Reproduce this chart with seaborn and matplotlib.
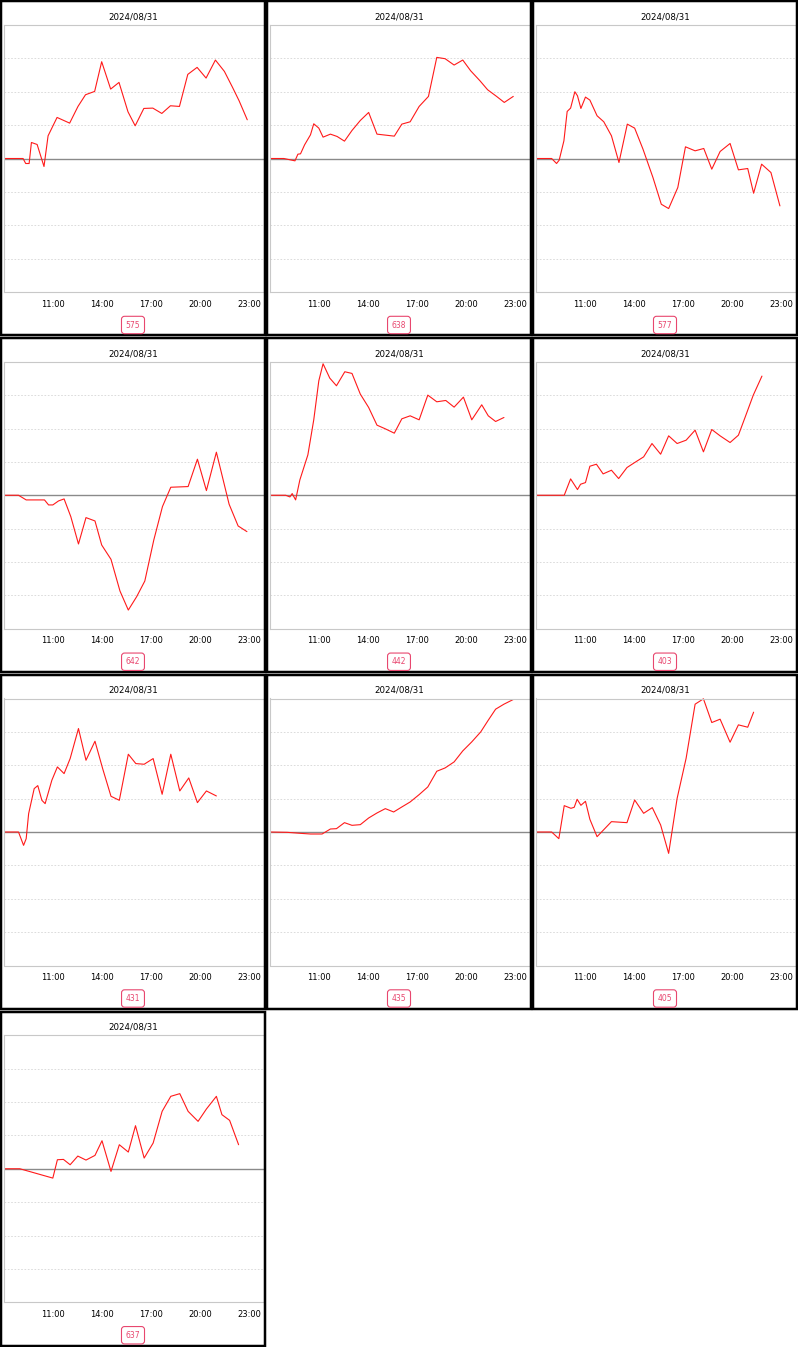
import matplotlib
matplotlib.use("Agg")
import matplotlib.pyplot as plt
import seaborn as sns
import pandas as pd
from matplotlib.patches import Rectangle

sns.set_style("white")
plt.rcParams['font.family'] = ['DejaVu Sans']
plt.rcParams['text.color'] = 'black'

date_title = "2024/08/31"
tick_hours = [11, 14, 17, 20, 23]
tick_labels = ["11:00", "14:00", "17:00", "20:00", "23:00"]
panel_ids = ["575", "638", "577", "642", "442", "403", "431", "435", "405", "637"]

t575 = [8.0, 9.18, 9.34, 9.55, 9.69, 10.04, 10.46, 10.71, 11.26, 12.03, 12.54, 13.0, 13.56, 13.99, 14.54, 15.05,
        15.6, 16.04, 16.57, 17.12, 17.67, 18.2, 18.75, 19.26, 19.83, 20.38, 20.95, 21.5, 22.0, 22.4, 22.9]
v575 = [0, 0, -0.15, -0.15, 0.48, 0.42, -0.24, 0.68, 1.23, 1.06, 1.56, 1.91, 2.01, 2.9, 2.08, 2.28,
        1.4, 0.98, 1.5, 1.51, 1.35, 1.58, 1.56, 2.52, 2.73, 2.41, 2.95, 2.61, 2.13, 1.73, 1.16]

t638 = [8.0, 8.86, 9.54, 9.72, 9.88, 10.13, 10.49, 10.69, 11.0, 11.26, 11.71, 12.12, 12.57, 13.03, 13.54, 14.05,
        14.56, 15.62, 16.08, 16.59, 17.14, 17.71, 18.22, 18.73, 19.28, 19.81, 20.29, 20.86, 21.33, 21.88, 22.35, 22.9]
v638 = [0, 0, -0.07, 0.13, 0.14, 0.41, 0.71, 1.04, 0.91, 0.64, 0.73, 0.66, 0.52, 0.84, 1.14, 1.38,
        0.73, 0.67, 1.03, 1.1, 1.56, 1.86, 3.03, 2.99, 2.8, 2.95, 2.63, 2.33, 2.06, 1.86, 1.68, 1.86]

t577 = [8.0, 8.97, 9.27, 9.43, 9.72, 9.92, 10.13, 10.39, 10.55, 10.76, 11.04, 11.31, 11.75, 12.16, 12.63, 13.09,
        13.6, 14.05, 14.56, 15.17, 15.68, 16.13, 16.69, 17.16, 17.75, 18.28, 18.77, 19.28, 19.89, 20.4, 20.97,
        21.33, 21.82, 22.39, 22.94]
v577 = [0, 0, -0.15, -0.05, 0.53, 1.41, 1.51, 2.0, 1.88, 1.5, 1.84, 1.75, 1.28, 1.1, 0.68, -0.12,
        1.03, 0.91, 0.28, -0.57, -1.37, -1.5, -0.87, 0.35, 0.23, 0.3, -0.32, 0.21, 0.45, -0.34, -0.3,
        -1.04, -0.17, -0.42, -1.42]

t642 = [8.0, 8.9, 9.37, 10.49, 10.74, 11.0, 11.35, 11.69, 12.1, 12.57, 13.03, 13.58, 13.99, 14.56, 15.11, 15.62,
        16.13, 16.63, 17.18, 17.71, 18.22, 19.28, 19.85, 20.4, 21.01, 21.79, 22.34, 22.88]
v642 = [0, 0, -0.14, -0.14, -0.29, -0.29, -0.17, -0.11, -0.64, -1.46, -0.67, -0.77, -1.49, -1.92, -2.87, -3.44,
        -3.04, -2.57, -1.34, -0.34, 0.24, 0.26, 1.08, 0.14, 1.29, -0.27, -0.92, -1.09]

t442 = [8.0, 8.97, 9.23, 9.37, 9.58, 9.84, 10.33, 10.69, 11.0, 11.26, 11.67, 12.08, 12.59, 13.03, 13.54, 14.05,
        14.56, 15.07, 15.62, 16.08, 16.59, 17.14, 17.67, 18.22, 18.77, 19.28, 19.85, 20.36, 20.97, 21.37, 21.82, 22.33]
v442 = [0, 0, -0.05, 0.05, -0.14, 0.46, 1.21, 2.26, 3.43, 3.94, 3.51, 3.28, 3.7, 3.65, 3.03, 2.63,
        2.1, 1.99, 1.86, 2.29, 2.38, 2.26, 3.0, 2.8, 2.84, 2.64, 2.94, 2.26, 2.71, 2.38, 2.21, 2.33]

t403 = [8.0, 9.74, 10.13, 10.55, 10.74, 11.04, 11.31, 11.71, 12.12, 12.63, 13.07, 13.58, 14.05, 14.6, 15.11, 15.64,
        16.13, 16.65, 17.2, 17.75, 18.26, 18.77, 19.28, 19.89, 20.4, 20.82, 21.31, 21.84]
v403 = [0, 0, 0.49, 0.17, 0.33, 0.38, 0.87, 0.93, 0.64, 0.75, 0.5, 0.83, 0.98, 1.15, 1.55, 1.23,
        1.78, 1.55, 1.65, 1.95, 1.3, 1.97, 1.78, 1.58, 1.8, 2.35, 3.0, 3.57]

t431 = [8.0, 8.9, 9.21, 9.37, 9.52, 9.86, 10.08, 10.33, 10.53, 10.94, 11.28, 11.69, 12.06, 12.57, 13.03, 13.58,
        14.05, 14.56, 15.07, 15.62, 16.08, 16.59, 17.14, 17.69, 18.22, 18.77, 19.32, 19.85, 20.4, 21.01]
v431 = [0, 0, -0.4, -0.2, 0.55, 1.3, 1.39, 0.95, 0.85, 1.55, 1.95, 1.75, 2.2, 3.1, 2.15, 2.72,
        1.9, 1.07, 0.95, 2.33, 2.05, 2.03, 2.2, 1.13, 2.33, 1.23, 1.62, 0.88, 1.23, 1.08]

t435 = [8.0, 9.07, 9.88, 10.49, 11.2, 11.71, 12.08, 12.57, 13.03, 13.54, 14.05, 14.56, 15.07, 15.58, 16.08, 16.59,
        17.14, 17.67, 18.22, 18.73, 19.28, 19.81, 20.36, 20.91, 21.37, 21.82, 22.33, 22.9]
v435 = [0, -0.01, -0.04, -0.06, -0.06, 0.09, 0.1, 0.28, 0.2, 0.22, 0.42, 0.57, 0.7, 0.6, 0.75, 0.9,
        1.12, 1.35, 1.82, 1.92, 2.1, 2.43, 2.7, 3.0, 3.35, 3.68, 3.83, 3.97]

t405 = [8.0, 8.97, 9.41, 9.74, 10.15, 10.35, 10.53, 10.76, 11.04, 11.31, 11.75, 12.63, 13.58, 14.05, 14.6, 15.13,
        15.64, 16.13, 16.65, 17.2, 17.75, 18.26, 18.77, 19.28, 19.89, 20.4, 20.97, 21.33]
v405 = [0, 0, -0.2, 0.79, 0.71, 0.74, 0.98, 0.8, 0.92, 0.38, -0.14, 0.31, 0.28, 0.96, 0.56, 0.73,
        0.21, -0.64, 1.01, 2.21, 3.83, 3.99, 3.28, 3.38, 2.69, 3.21, 3.14, 3.59]

t637 = [8.0, 8.98, 11.0, 11.28, 11.65, 12.06, 12.53, 13.03, 13.58, 14.01, 14.56, 15.07, 15.62, 16.06, 16.59, 17.14,
        17.69, 18.22, 18.77, 19.28, 19.89, 20.4, 21.01, 21.35, 21.82, 22.37]
v637 = [0, 0, -0.28, 0.27, 0.28, 0.12, 0.38, 0.26, 0.4, 0.84, -0.08, 0.72, 0.5, 1.29, 0.32, 0.77,
        1.72, 2.17, 2.25, 1.72, 1.42, 1.79, 2.17, 1.62, 1.45, 0.72]

times = [t575, t638, t577, t642, t442, t403, t431, t435, t405, t637]
values = [v575, v638, v577, v642, v442, v403, v431, v435, v405, v637]

W, H = 798, 1347
cell_w, cell_h = 266.0, 336.75
fig = plt.figure(figsize=(W / 100, H / 100), dpi=100)
fig.patch.set_facecolor("white")

pink = "#e8476f"
bw = 2.5  # border width in px

for i, (pid, t, v) in enumerate(zip(panel_ids, times, values)):
    r, c = divmod(i, 3)
    x0, y0 = c * cell_w, r * cell_h
    ax = fig.add_axes([(x0 + 3.8) / W, 1 - (y0 + 292) / H, 259.8 / W, 267 / H])
    df = pd.DataFrame({"time": t, "value": v})
    for g in [-3, -2, -1, 1, 2, 3]:
        ax.axhline(g, color="#d6d6d6", lw=0.6, ls=(0, (2, 2)), zorder=0)
    ax.axhline(0, color="#8a8a8a", lw=1.0, zorder=1)
    sns.lineplot(data=df, x="time", y="value", ax=ax, color="#ff1a1a", lw=0.8, zorder=2)
    ax.set_xlim(8.0, 23.9)
    ax.set_ylim(-4, 4)
    ax.set_xticks(tick_hours)
    ax.set_xticklabels(tick_labels, fontsize=6)
    ax.set_yticks([])
    ax.set_xlabel("")
    ax.set_ylabel("")
    ax.tick_params(axis="x", length=3.5, width=0.6, color="#bbbbbb", pad=2, labelcolor="black")
    for s in ax.spines.values():
        s.set_color("#c8c8c8")
        s.set_linewidth(0.8)
    ax.set_title(date_title, fontsize=6.2, pad=4, color="black")
    fig.text((x0 + cell_w / 2) / W, 1 - (y0 + 325) / H, pid, fontsize=5.5, color=pink,
             ha="center", va="center",
             bbox=dict(boxstyle="round,pad=0.55,rounding_size=0.4", fc="white", ec=pink, lw=0.8))
    fig.add_artist(Rectangle(((x0 + bw / 2) / W, 1 - (y0 + cell_h - bw / 2) / H),
                             (cell_w - bw) / W, (cell_h - bw) / H, fill=False,
                             ec="black", lw=bw * 0.72, transform=fig.transFigure))

fig.savefig("out.png", dpi=100, facecolor="white")
